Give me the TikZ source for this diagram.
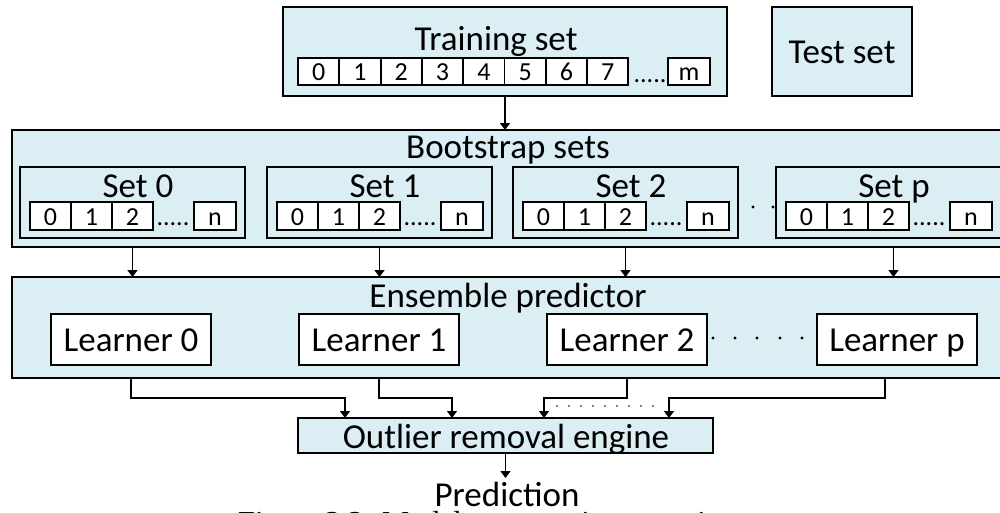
\documentclass[tikz,border=0pt]{standalone}
\usepackage{fontspec}
\setmainfont{Carlito}
\newfontfamily\capfont{Liberation Serif}
\usetikzlibrary{arrows.meta,calc}
\definecolor{boxfill}{HTML}{DAEEF3}
\begin{document}
\begin{tikzpicture}[x=1pt,y=-1pt,
  outerbox/.style={draw=black, line width=1.4pt, fill=boxfill, anchor=north west, inner sep=0pt, outer sep=0pt},
  setbox/.style={draw=black, line width=2.8pt, fill=boxfill, anchor=north west, inner sep=0pt, outer sep=0pt, minimum width=225pt, minimum height=71pt},
  learnbox/.style={draw=black, line width=2.3pt, fill=white, inner sep=0pt, outer sep=0pt, anchor=north west, minimum width=160pt, minimum height=51pt, text height=23pt, text depth=0pt, font=\fontsize{35}{42}\selectfont},
  cell/.style={draw=black, line width=1.9pt, fill=white, anchor=north west, inner sep=0pt, outer sep=0pt, text height=18pt, text depth=0pt, font=\fontsize{26}{30}\selectfont},
  lbl/.style={inner sep=0pt, anchor=base, font=\fontsize{35}{42}\selectfont},
  dotslbl/.style={inner sep=0pt, anchor=base, font=\fontsize{26}{30}\selectfont},
  arr/.style={draw=black, line width=1.4pt, -{Triangle[width=10pt,length=7pt]}},
  dotline/.style={draw=black, line width=1.8pt, line cap=round, dash pattern=on 0pt off 12pt}
]
\useasboundingbox (0,0) rectangle (1000,512);
\clip (0,0) rectangle (1000,512);

% Training set
\node[outerbox, minimum width=444pt, minimum height=89pt] (train) at (283,7) {};
\node[lbl] (trainlbl) at (496,50) {Training set};
\foreach \i in {0,...,7}
  \node[cell, minimum width=41.3pt, minimum height=27pt] (tc\i) at ({298+41.3*\i},58) {\i};
\node[dotslbl] (tdots) at (650,82) {.....};
\node[cell, minimum width=42pt, minimum height=27pt] (tcm) at (668,58) {m};

% Test set
\node[outerbox, minimum width=140pt, minimum height=89pt] (test) at (772,7) {};
\node[lbl] (testlbl) at (842,63) {Test set};

% Bootstrap sets
\node[outerbox, minimum width=1000pt, minimum height=117pt] (boot) at (12,130) {};
\node[lbl] (bootlbl) at (508,158) {Bootstrap sets};
\foreach \xo/\s in {20/0,267/1,513/2,776/p} {
  \node[setbox] (set\s) at (\xo,167) {};
  \node[lbl] (setlbl\s) at ({\xo+118},197) {Set \s};
  \foreach \i in {0,1,2}
    \node[cell, minimum width=41pt, minimum height=28pt] (s\s-c\i) at ({\xo+10+41*\i},202) {\i};
  \node[dotslbl] (s\s-dots) at ({\xo+153},225) {.....};
  \node[cell, minimum width=42pt, minimum height=28pt] (s\s-cn) at ({\xo+174},202) {n};
}
\fill (753,207) circle (1.6pt);
\fill (773,207) circle (1.6pt);

% Ensemble predictor
\node[outerbox, minimum width=1000pt, minimum height=101pt] (ens) at (12,277) {};
\node[lbl] (enslbl) at (508,307) {Ensemble predictor};
\node[learnbox] (learn0) at (51,314) {Learner 0};
\node[learnbox] (learn1) at (299,314) {Learner 1};
\node[learnbox] (learn2) at (547,314) {Learner 2};
\node[learnbox] (learnp) at (817,314) {Learner p};
\foreach \d in {713,735,757,780,802}
  \fill (\d,338) circle (1.6pt);

% Outlier removal engine
\node[outerbox, minimum width=415pt, minimum height=35pt] (out) at (298,418) {};
\node[lbl] (outlbl) at (506,448) {Outlier removal engine};
\coordinate (in0) at (345,418);
\coordinate (in1) at (452,418);
\coordinate (in2) at (544,418);
\coordinate (in3) at (669,418);

% Prediction
\node[lbl] (pred) at (507,506) {Prediction};

% Caption (cut off at the bottom edge)
\node[inner sep=0pt, anchor=base west, font=\capfont\fontsize{30.5}{36}\selectfont] (cap) at (238,532) {Figure 3.2: Model construction overview};

% Connectors
\draw[arr] (train.south) -- (train.south |- boot.north);
\foreach \s in {0,1,2} \draw[arr] (set\s.south |- boot.south) -- (set\s.south |- ens.north);
\draw[arr] ([xshift=5pt]setp.south |- boot.south) -- ([xshift=5pt]setp.south |- ens.north);

\draw[arr] (learn0.south |- ens.south) -- ++(0,20) -| (in0);
\draw[arr] (learn1.south |- ens.south) -- ++(0,20) -| (in1);
\draw[arr] (learn2.south |- ens.south) -- ++(0,20) -| (in2);
\draw[arr] ([xshift=-12pt]learnp.south |- ens.south) -- ++(0,20) -| (in3);
\draw[dotline] ($(in2)+(13,-12)$) -- ($(in3)+(-10,-12)$);

\draw[arr] (out.south) -- ($(out.south)+(0,25)$);
\end{tikzpicture}
\end{document}
